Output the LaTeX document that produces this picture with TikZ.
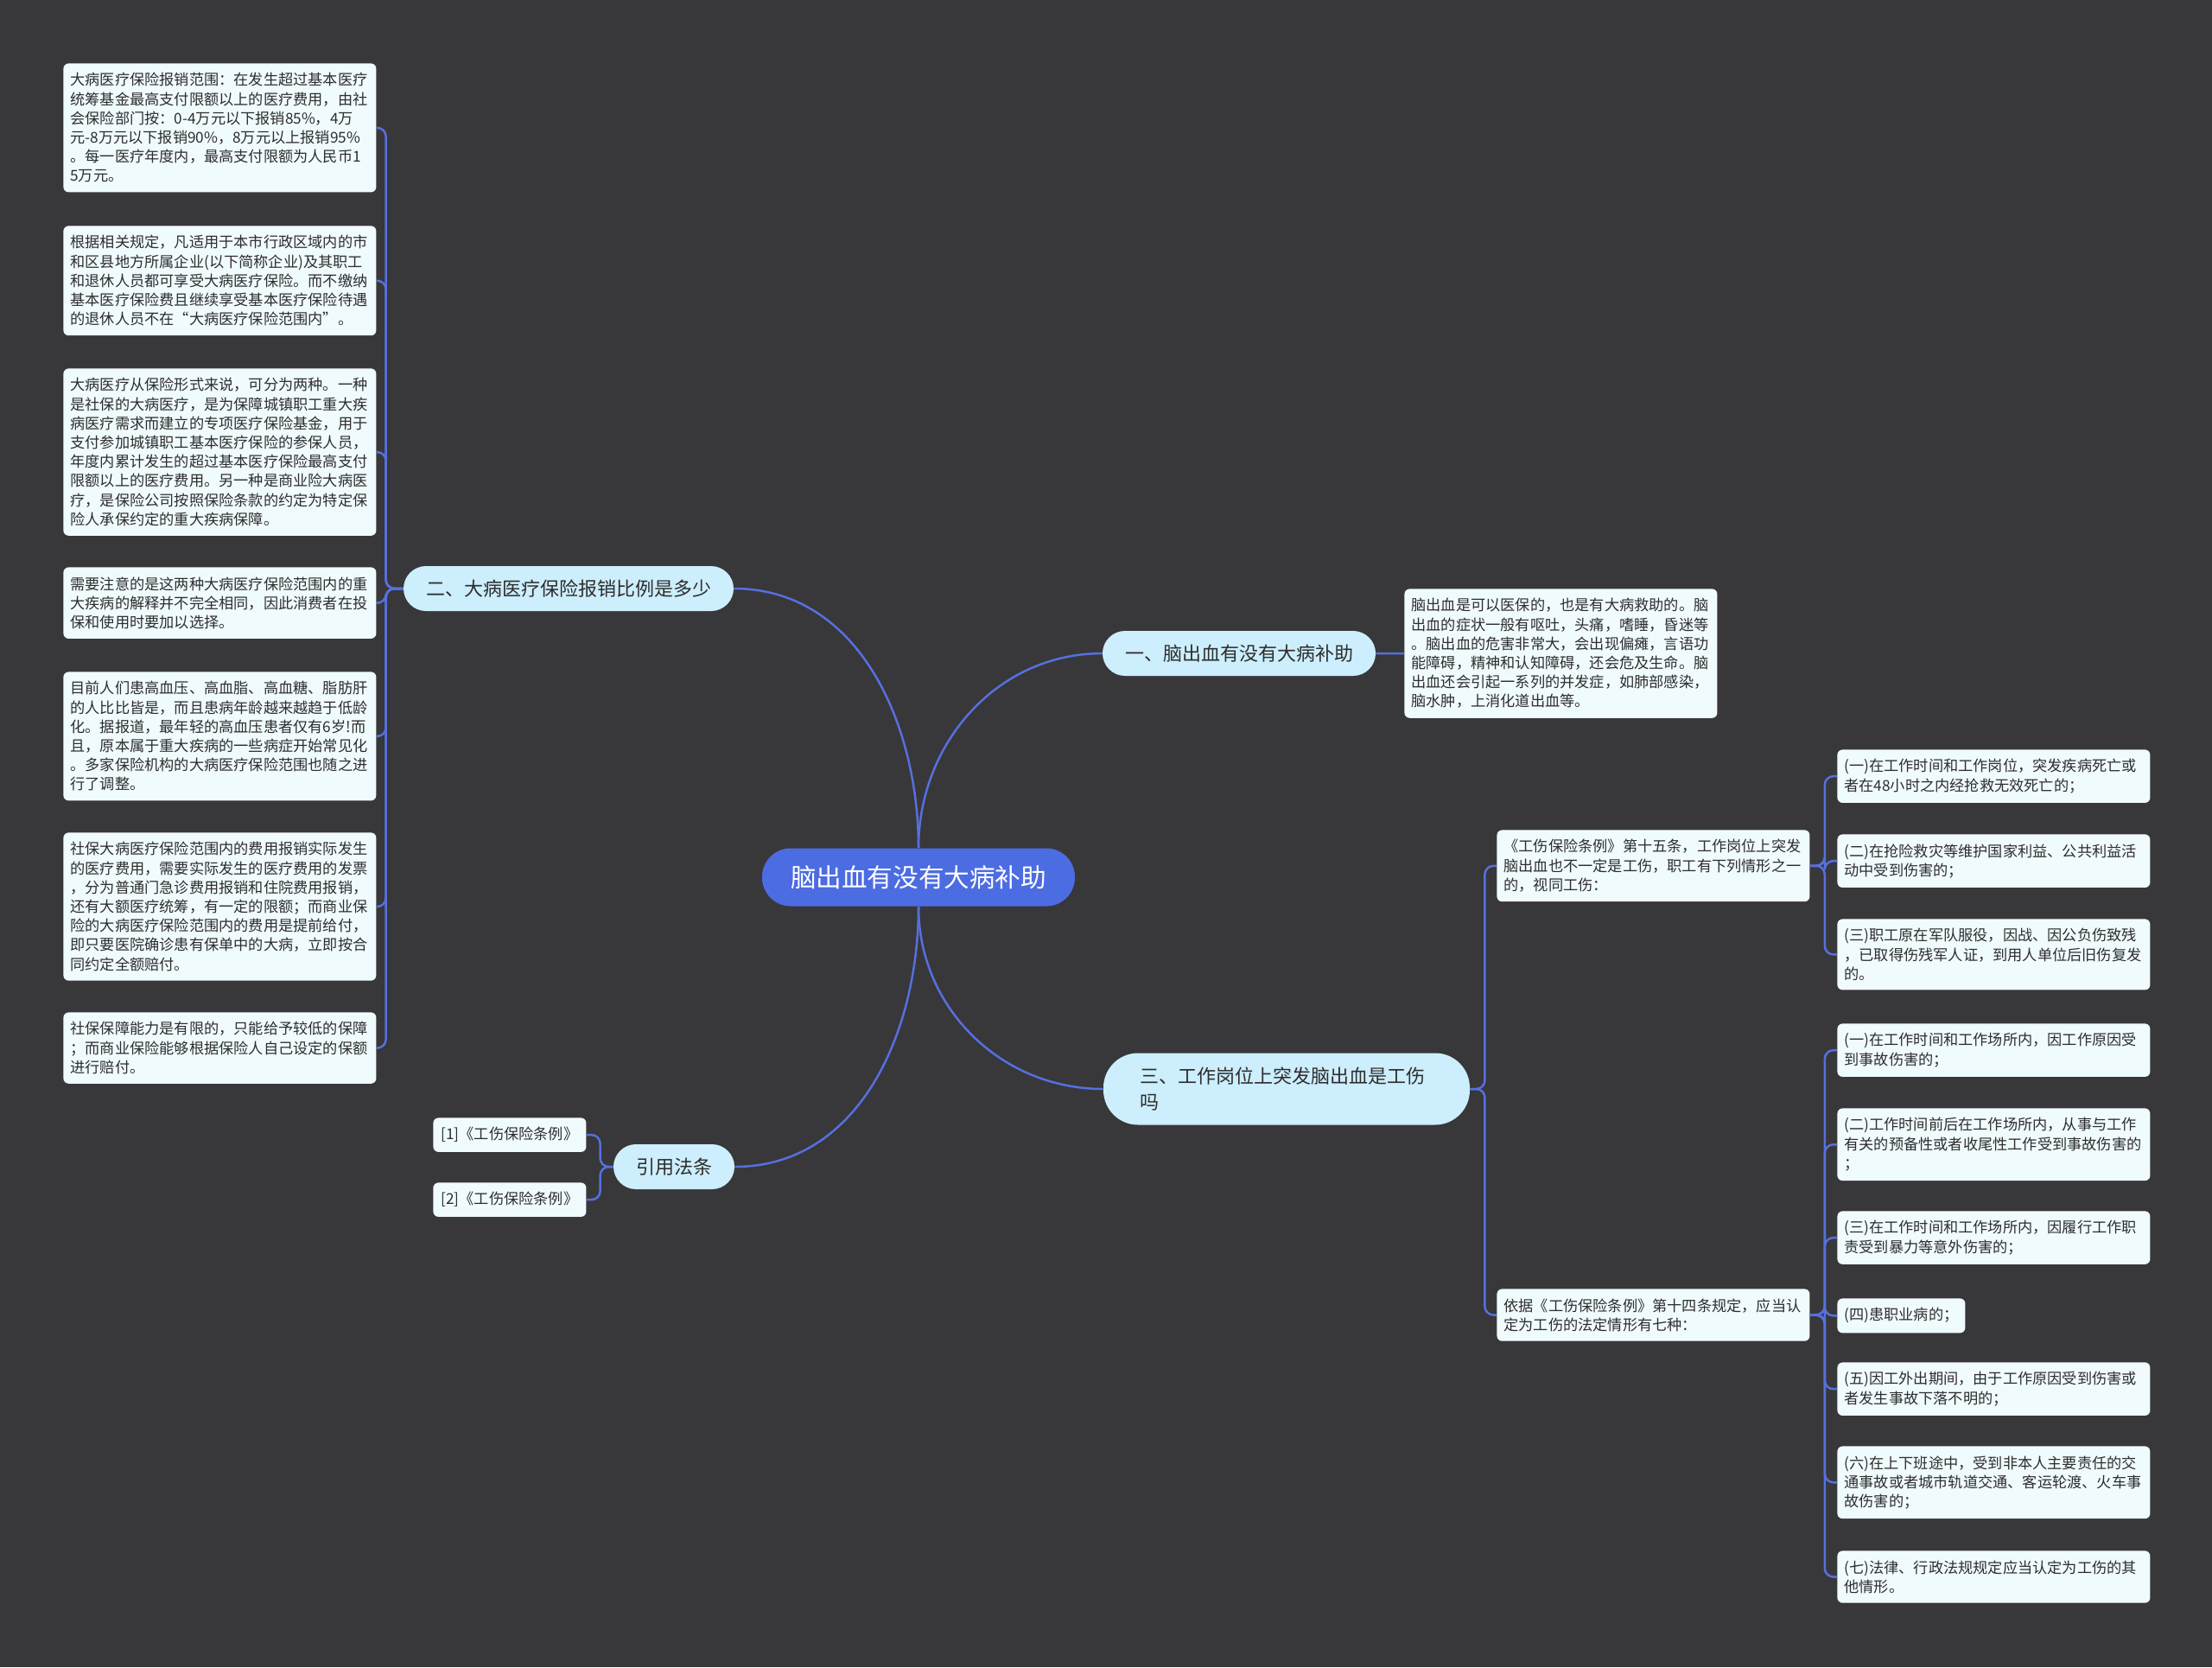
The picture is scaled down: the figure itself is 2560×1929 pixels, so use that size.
\documentclass[tikz,border=0pt]{standalone}
\usepackage{fontspec}
\newfontfamily\cjk{Noto Sans CJK SC}
\definecolor{bg}{RGB}{56,55,58}
\definecolor{rootbg}{RGB}{76,108,226}
\definecolor{branchbg}{RGB}{205,238,252}
\definecolor{leafbg}{RGB}{240,251,254}
\definecolor{linkc}{RGB}{86,112,222}
\definecolor{txt}{RGB}{45,45,45}
\tikzset{
  root/.style   = {fill=rootbg, text=white, font=\cjk\fontsize{14.8}{17}\selectfont,
                   rounded corners=16.5pt, minimum width=181pt, minimum height=33.5pt},
  branch/.style = {fill=branchbg, text=txt, font=\cjk\fontsize{11}{15}\selectfont,
                   rounded corners=13pt, inner xsep=13pt, minimum height=26pt},
  note/.style   = {fill=leafbg, text=txt, font=\cjk\fontsize{8.6}{11.1}\selectfont,
                   rounded corners=3pt, inner xsep=4pt, inner ysep=5.5pt, align=left,
                   anchor=north west},
  para/.style   = {note, text width=173pt},
  link/.style   = {draw=linkc, line width=1.25pt, rounded corners=5pt}
}
% places a text box by its top left corner
\newcommand{\DrawNote}[4][para]{%
  \node[#1] (#2) at #3 {#4};
}

\begin{document}
\begin{tikzpicture}[x=0.5pt,y=0.5pt]
    \fill[bg] (0,0) rectangle (2560,-1929);
    \useasboundingbox (0,0) rectangle (2560,-1929);

    \node[root] (root) at (1063,-1015) {脑出血有没有大病补助};

    \node[branch] (b1) at (1434,-756) {一、脑出血有没有大病补助};
    \node[branch] (b2) at (658,-681) {二、大病医疗保险报销比例是多少};
    \node[branch, rounded corners=20pt, inner xsep=21pt, text width=170pt,
          align=left, minimum height=41.5pt] (b3) at (1489,-1260)
      {三、工作岗位上突发脑出血是工伤\\吗};
    \node[branch] (b4) at (780,-1350) {引用法条};

    % branch one
    \DrawNote{k1}{(1625,-681)}
    {脑出血是可以医保的，也是有大病救助的。脑\\出血的症状一般有呕吐，头痛，嗜睡，昏迷等\\。脑出血的危害非常大，会出现偏瘫，言语功\\能障碍，精神和认知障碍，还会危及生命。脑\\出血还会引起一系列的并发症，如肺部感染，\\脑水肿，上消化道出血等。}

    % branch two
    \DrawNote{l1}{(73,-73)}
    {大病医疗保险报销范围：在发生超过基本医疗\\统筹基金最高支付限额以上的医疗费用，由社\\会保险部门按：0-4万元以下报销85\%，4万\\元-8万元以下报销90\%，8万元以上报销95\%\\。每一医疗年度内，最高支付限额为人民币1\\5万元。}
    \DrawNote{l2}{(73,-261)}
    {根据相关规定，凡适用于本市行政区域内的市\\和区县地方所属企业(以下简称企业)及其职工\\和退休人员都可享受大病医疗保险。而不缴纳\\基本医疗保险费且继续享受基本医疗保险待遇\\的退休人员不在“大病医疗保险范围内”。}
    \DrawNote{l3}{(73,-426)}
    {大病医疗从保险形式来说，可分为两种。一种\\是社保的大病医疗，是为保障城镇职工重大疾\\病医疗需求而建立的专项医疗保险基金，用于\\支付参加城镇职工基本医疗保险的参保人员，\\年度内累计发生的超过基本医疗保险最高支付\\限额以上的医疗费用。另一种是商业险大病医\\疗，是保险公司按照保险条款的约定为特定保\\险人承保约定的重大疾病保障。}
    \DrawNote{l4}{(73,-656)}
    {需要注意的是这两种大病医疗保险范围内的重\\大疾病的解释并不完全相同，因此消费者在投\\保和使用时要加以选择。}
    \DrawNote{l5}{(73,-777)}
    {目前人们患高血压、高血脂、高血糖、脂肪肝\\的人比比皆是，而且患病年龄越来越趋于低龄\\化。据报道，最年轻的高血压患者仅有6岁!而\\且，原本属于重大疾病的一些病症开始常见化\\。多家保险机构的大病医疗保险范围也随之进\\行了调整。}
    \DrawNote{l6}{(73,-963)}
    {社保大病医疗保险范围内的费用报销实际发生\\的医疗费用，需要实际发生的医疗费用的发票\\，分为普通门急诊费用报销和住院费用报销，\\还有大额医疗统筹，有一定的限额；而商业保\\险的大病医疗保险范围内的费用是提前给付，\\即只要医院确诊患有保单中的大病，立即按合\\同约定全额赔付。}
    \DrawNote{l7}{(73,-1171)}
    {社保保障能力是有限的，只能给予较低的保障\\；而商业保险能够根据保险人自己设定的保额\\进行赔付。}

    % branch three
    \DrawNote{r1}{(1732,-960)}
    {《工伤保险条例》第十五条，工作岗位上突发\\脑出血也不一定是工伤，职工有下列情形之一\\的，视同工伤：}
    \DrawNote{r2}{(1732,-1491)}
    {依据《工伤保险条例》第十四条规定，应当认\\定为工伤的法定情形有七种：}

    \DrawNote{a1}{(2126,-867)}
    {(一)在工作时间和工作岗位，突发疾病死亡或\\者在48小时之内经抢救无效死亡的；}
    \DrawNote{a2}{(2126,-965)}
    {(二)在抢险救灾等维护国家利益、公共利益活\\动中受到伤害的；}
    \DrawNote{a3}{(2126,-1063)}
    {(三)职工原在军队服役，因战、因公负伤致残\\，已取得伤残军人证，到用人单位后旧伤复发\\的。}

    \DrawNote{s1}{(2126,-1184)}
    {(一)在工作时间和工作场所内，因工作原因受\\到事故伤害的；}
    \DrawNote{s2}{(2126,-1282)}
    {(二)工作时间前后在工作场所内，从事与工作\\有关的预备性或者收尾性工作受到事故伤害的\\；}
    \DrawNote{s3}{(2126,-1401)}
    {(三)在工作时间和工作场所内，因履行工作职\\责受到暴力等意外伤害的；}
    \DrawNote[note]{s4}{(2126,-1502)}
    {(四)患职业病的；}
    \DrawNote{s5}{(2126,-1576)}
    {(五)因工外出期间，由于工作原因受到伤害或\\者发生事故下落不明的；}
    \DrawNote{s6}{(2126,-1673)}
    {(六)在上下班途中，受到非本人主要责任的交\\通事故或者城市轨道交通、客运轮渡、火车事\\故伤害的；}
    \DrawNote{s7}{(2126,-1794)}
    {(七)法律、行政法规规定应当认定为工伤的其\\他情形。}

    % branch four
    \DrawNote[note, minimum width=88.5pt, minimum height=18pt]{c1}{(501,-1293)}
    {[1]《工伤保险条例》}
    \DrawNote[note, minimum width=88.5pt, minimum height=18pt]{c2}{(501,-1368)}
    {[2]《工伤保险条例》}

    % connectors
    \draw[link] (root.north) to[out=90,in=180] (b1.west);
    \draw[link] (root.north) to[out=90,in=0] (b2.east);
    \draw[link] (root.south) to[out=-90,in=180] (b3.west);
    \draw[link] (root.south) to[out=-90,in=0] (b4.east);

    \draw[link] (b1.east) -- (k1.west);
    \foreach \n in {l1,l2,l3,l4,l5,l6,l7}
      \draw[link] (b2.west) -- ++(-20,0) |- (\n.east);
    \foreach \n in {r1,r2}
      \draw[link] (b3.east) -- ++(17,0) |- (\n.west);
    \foreach \n in {a1,a2,a3}
      \draw[link] (r1.east) -- ++(17,0) |- (\n.west);
    \foreach \n in {s1,s2,s3,s4,s5,s6,s7}
      \draw[link] (r2.east) -- ++(17,0) |- (\n.west);
    \foreach \n in {c1,c2}
      \draw[link] (b4.west) -- ++(-15,0) |- (\n.east);
  \end{tikzpicture}
\end{document}
